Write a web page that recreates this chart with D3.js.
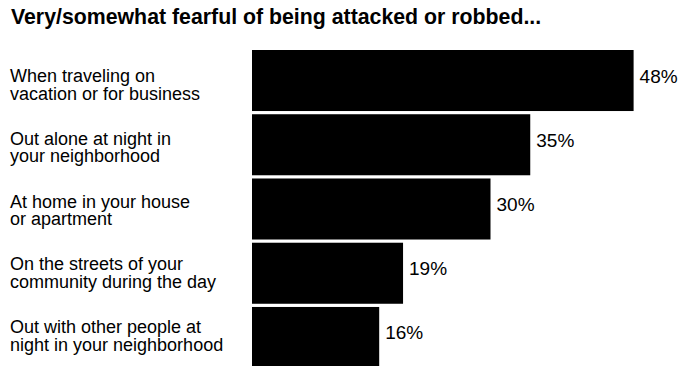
<!DOCTYPE html>
<html>
<head>
<meta charset="utf-8">
<script src="https://cdn.jsdelivr.net/npm/d3@7"></script>
<style>
  html, body { margin: 0; padding: 0; background: #fff; }
  svg { display: block; }
  text { font-family: "Liberation Sans", Arial, Helvetica, sans-serif; fill: #000; }
</style>
</head>
<body>
<div id="chart"></div>
<script>
const title = "Very/somewhat fearful of being attacked or robbed...";
const categories = [
  "When traveling on\nvacation or for business",
  "Out alone at night in\nyour neighborhood",
  "At home in your house\nor apartment",
  "On the streets of your\ncommunity during the day",
  "Out with other people at\nnight in your neighborhood"
];
const values = [48, 35, 30, 19, 16];
const valueLabels = ["48%", "35%", "30%", "19%", "16%"];

const W = 696, H = 366;
const svg = d3.select("#chart").append("svg").attr("width", W).attr("height", H);

const x = d3.scaleLinear().domain([0, 50]).range([252, 649.5]);
const y = d3.scaleBand().domain(categories).range([50, 368]).paddingInner(0.05).paddingOuter(0);
const labelY = d3.scalePoint().domain(categories).range([82, 333]);

svg.append("text")
  .attr("x", 11).attr("y", 24)
  .attr("font-size", 21.3).attr("font-weight", "bold")
  .text(title);

const data = categories.map((c, i) => ({ c, v: values[i], lab: valueLabels[i] }));

svg.selectAll("rect.bar").data(data).join("rect")
  .attr("class", "bar")
  .attr("x", x(0))
  .attr("y", d => y(d.c))
  .attr("width", d => x(d.v) - x(0))
  .attr("height", y.bandwidth())
  .attr("fill", "#000");

svg.selectAll("text.val").data(data).join("text")
  .attr("class", "val")
  .attr("x", d => x(d.v) + 6)
  .attr("y", d => y(d.c) + y.bandwidth() / 2 + 2)
  .attr("font-size", 19)
  .text(d => d.lab);

const cat = svg.selectAll("text.cat").data(data).join("text")
  .attr("class", "cat")
  .attr("x", 10)
  .attr("y", d => labelY(d.c))
  .attr("font-size", 18);
cat.selectAll("tspan").data(d => d.c.split("\n")).join("tspan")
  .attr("x", 10)
  .attr("dy", (d, i) => i === 0 ? 0 : 17.5)
  .text(d => d);
</script>
</body>
</html>
